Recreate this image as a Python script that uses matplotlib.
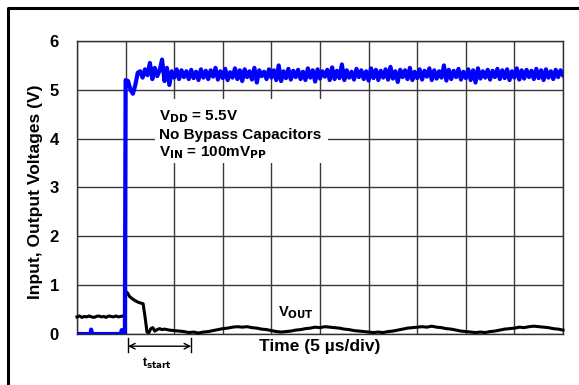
import numpy as np
import matplotlib.pyplot as plt
from matplotlib.patches import Rectangle
from matplotlib.lines import Line2D

plt.rcParams['font.family'] = ['Liberation Sans', 'DejaVu Sans']
plt.rcParams['font.weight'] = 'bold'

# Input (blue) trace: time in divisions, volts
vin_t_start = [0.0, 0.28, 0.29, 0.31, 0.90, 0.92, 0.95, 0.97, 0.985, 1.0, 1.05, 1.1, 1.15, 1.2, 1.25]
vin_v_start = [0.0, 0.0, 0.09, 0.0, 0.0, 0.08, 0.05, 0.0, 0.0, 5.2, 5.18, 5.0, 4.92, 5.1, 5.35]
vin_noise = [
    5.38, 5.25, 5.42, 5.30, 5.55, 5.22, 5.45, 5.28, 5.40, 5.62,
    5.18, 5.45, 5.10, 5.38, 5.25, 5.42, 5.22, 5.40, 5.26, 5.38,
    5.22, 5.41, 5.24, 5.37, 5.20, 5.42, 5.25, 5.39, 5.22, 5.40,
    5.27, 5.45, 5.21, 5.38, 5.24, 5.43, 5.20, 5.36, 5.25, 5.44,
    5.22, 5.40, 5.18, 5.42, 5.26, 5.38, 5.21, 5.45, 5.15, 5.40,
    5.28, 5.37, 5.22, 5.42, 5.25, 5.40, 5.20, 5.50, 5.18, 5.38,
    5.24, 5.43, 5.21, 5.39, 5.26, 5.41, 5.22, 5.37, 5.20, 5.44,
    5.25, 5.40, 5.17, 5.42, 5.23, 5.38, 5.27, 5.41, 5.20, 5.46,
    5.22, 5.39, 5.24, 5.52, 5.20, 5.40, 5.25, 5.37, 5.21, 5.43,
    5.26, 5.40, 5.22, 5.38, 5.19, 5.44, 5.24, 5.41, 5.20, 5.39,
    5.25, 5.42, 5.21, 5.47, 5.23, 5.38, 5.16, 5.41, 5.26, 5.40,
    5.22, 5.45, 5.20, 5.37, 5.24, 5.42, 5.21, 5.39, 5.27, 5.44,
    5.20, 5.40, 5.23, 5.38, 5.25, 5.50, 5.19, 5.41, 5.22, 5.39,
    5.26, 5.43, 5.21, 5.37, 5.24, 5.42, 5.20, 5.40, 5.15, 5.44,
    5.23, 5.38, 5.25, 5.41, 5.21, 5.39, 5.26, 5.43, 5.22, 5.40,
    5.24, 5.42, 5.20, 5.38, 5.25, 5.44, 5.21, 5.40, 5.23, 5.41,
    5.26, 5.39, 5.22, 5.43, 5.24, 5.40, 5.20, 5.42, 5.25, 5.38,
    5.22, 5.41, 5.26, 5.40, 5.30,
]
vin_noise_t = np.linspace(1.3, 10.0, len(vin_noise))

# Output (black) trace
vout_t = [
    0.0, 0.05, 0.1, 0.15, 0.2, 0.25, 0.3, 0.35, 0.4, 0.45, 0.5, 0.55, 0.6, 0.65,
    0.7, 0.75, 0.8, 0.85, 0.9, 0.95, 0.98,
    1.0, 1.04, 1.08, 1.14, 1.2, 1.26, 1.32, 1.36, 1.4, 1.44, 1.48, 1.52, 1.56,
    1.6, 1.65, 1.7, 1.75, 1.8, 1.9,
]
vout_v = [
    0.35, 0.37, 0.34, 0.36, 0.35, 0.37, 0.35, 0.34, 0.36, 0.37, 0.35, 0.36, 0.34,
    0.37, 0.36, 0.35, 0.37, 0.35, 0.36, 0.37, 0.36,
    0.87, 0.84, 0.77, 0.72, 0.68, 0.65, 0.63, 0.62, 0.35, 0.04, 0.03, 0.11, 0.13,
    0.06, 0.09, 0.11, 0.09, 0.10, 0.08,
]
vout_tail = [
    0.07, 0.06, 0.05, 0.03, 0.04, 0.02, 0.04, 0.05, 0.07, 0.09,
    0.11, 0.12, 0.14, 0.15, 0.14, 0.15, 0.13, 0.12, 0.10, 0.09,
    0.07, 0.05, 0.04, 0.05, 0.06, 0.08, 0.09, 0.11, 0.12, 0.14,
    0.13, 0.15, 0.14, 0.13, 0.12, 0.10, 0.09, 0.07, 0.06, 0.05,
    0.04, 0.03, 0.04, 0.03, 0.05, 0.06, 0.08, 0.10, 0.12, 0.13,
    0.14, 0.15, 0.14, 0.16, 0.14, 0.13, 0.11, 0.10, 0.08, 0.06,
    0.05, 0.04, 0.03, 0.04, 0.03, 0.05, 0.06, 0.08, 0.10, 0.11,
    0.12, 0.14, 0.13, 0.15, 0.16, 0.15, 0.14, 0.13, 0.11, 0.10,
    0.08,
]
vout_tail_t = np.linspace(2.0, 10.0, len(vout_tail))

yticks = [0, 1, 2, 3, 4, 5, 6]

fig = plt.figure(figsize=(5.79, 3.85), dpi=100)
ax = fig.add_axes([77 / 579, 1 - 334 / 385, (563 - 77) / 579, (334 - 41) / 385])

ax.set_xlim(0, 10)
ax.set_ylim(0, 6)
ax.set_xticks(np.arange(0, 11, 1))
ax.set_yticks(yticks)
ax.set_xticklabels([])
ax.set_yticklabels([str(v) for v in yticks], fontsize=12, fontweight='bold')
ax.tick_params(axis='both', length=0, pad=13)
ax.tick_params(axis='x', pad=0)
ax.grid(True, color='#3a3a3a', linewidth=1.0)
ax.set_axisbelow(True)
for s in ax.spines.values():
    s.set_linewidth(1.0)
    s.set_color('#303030')

ax.set_ylabel('Input, Output Voltages (V)', fontsize=12.5, fontweight='bold', va='center')
ax.yaxis.set_label_coords((36 - 77) / 486, (334 - 192) / 293)
ax.set_xlabel('Time (5 µs/div)', fontsize=12.5, fontweight='bold', va='center')
ax.xaxis.set_label_coords(0.5, (334 - 347) / 293)

# white box behind the conditions text
ax.add_patch(Rectangle((1.6, 3.5), 3.56, 1.32, facecolor='white', edgecolor='none', zorder=1.5))

ax.plot(list(vout_t) + list(vout_tail_t), vout_v + vout_tail, color='black', lw=2.2, zorder=3, clip_on=False)
ax.plot(list(vin_t_start) + list(vin_noise_t), vin_v_start + vin_noise, color='#0000ff', lw=3.0, zorder=4)

ax.text(1.68, 4.45, r'V$_{\mathbf{DD}}$ = 5.5V', fontsize=11, fontweight='bold', va='center', zorder=5)
ax.text(1.68, 4.08, 'No Bypass Capacitors', fontsize=11, fontweight='bold', va='center', zorder=5)
ax.text(1.68, 3.71, r'V$_{\mathbf{IN}}$ = 100mV$_{\mathbf{PP}}$', fontsize=11, fontweight='bold', va='center', zorder=5)
ax.text(4.13, 0.43, r'V$_{\mathbf{OUT}}$', fontsize=10.5, fontweight='bold', va='center', zorder=5)

# t_start marker below the axis
ax.annotate('', xy=(1.05, -0.25), xytext=(2.35, -0.25), annotation_clip=False,
            arrowprops=dict(arrowstyle='<->', color='black', lw=1.0, shrinkA=0, shrinkB=0))
for xv in (1.05, 2.35):
    ax.plot([xv, xv], [-0.08, -0.37], color='black', lw=1.0, clip_on=False)
ax.text(1.65, -0.6, r't$_{\mathbf{start}}$', fontsize=9, fontweight='bold', ha='center', va='center',
        clip_on=False)

# outer frame (left and top edges visible)
fig.add_artist(Line2D([8 / 579, 8 / 579, 1.0], [0.0, 1 - 8 / 385, 1 - 8 / 385],
                      transform=fig.transFigure, color='black', lw=2.2))

fig.savefig('out.png', dpi=100)
